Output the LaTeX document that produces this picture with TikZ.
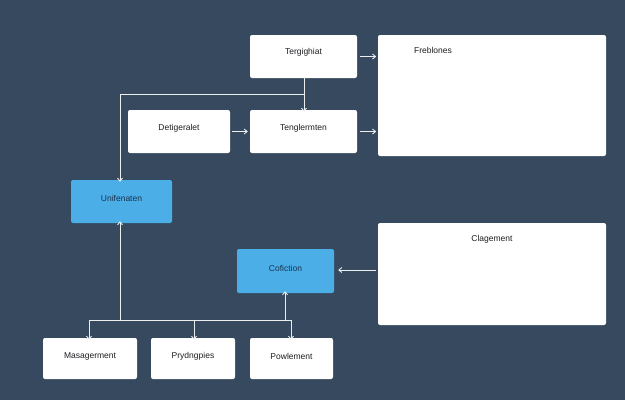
\documentclass[tikz,border=0pt]{standalone}
\usepackage{fontspec}
\setmainfont{Liberation Sans}
\usetikzlibrary{arrows.meta}
\definecolor{bg}{RGB}{54,73,94}
\definecolor{bl}{RGB}{76,174,230}
\definecolor{tx}{RGB}{30,30,35}
\definecolor{nv}{RGB}{25,50,80}
\begin{document}
\begin{tikzpicture}[x=1pt,y=-1pt,
 box/.style={draw=none,fill=white,rounded corners=2pt,font=\fontsize{8.5}{10}\selectfont,text=tx},
 bbox/.style={box,fill=bl},
 lbl/.style={font=\fontsize{8.5}{10}\selectfont,text=tx,inner sep=0},
 blbl/.style={lbl,text=nv},
 ln/.style={draw=white!90!bg,line width=0.9pt},
 ar/.style={ln,-{Straight Barb[length=3pt,width=5pt]}}]
\fill[bg] (0,0) rectangle (625,400);
\useasboundingbox (0,0) rectangle (625,400);
\newcommand\bx[6]{\node[#1,minimum width=#4-#2,minimum height=#5-#3,inner sep=0] (#6) at ({(#2+#4)/2},{(#3+#5)/2}) {};}
\bx{box}{250}{35}{357}{78}{tg}\node[lbl] at ([yshift=4pt]tg.center) {Tergighiat};
\bx{box}{378}{35}{606}{156}{fr}\node[lbl] at (433,50) {Freblones};
\bx{box}{128}{110}{230}{153}{de}\node[lbl] at ([yshift=3pt]de.center) {Detigeralet};
\bx{box}{250}{110}{357}{153}{te}\node[lbl] at ([yshift=3pt]te.center) {Tenglermten};
\bx{bbox}{71}{180}{172}{223}{un}\node[blbl] at ([yshift=3pt]un.center) {Unifenaten};
\bx{bbox}{237}{249}{334}{293}{co}\node[blbl] at ([yshift=3pt]co.center) {Cofiction};
\bx{box}{378}{223}{606}{325}{cl}\node[lbl] at (492,239) {Clagement};
\bx{box}{43}{338}{137}{379}{ma}\node[lbl] at ([yshift=2pt]ma.center) {Masagerment};
\bx{box}{151}{338}{235}{379}{py}\node[lbl] at ([yshift=2pt]py.center) {Prydngpies};
\bx{box}{250}{338}{333}{379}{po}\node[lbl] at ([yshift=2pt]po.center) {Powlement};
\coordinate (j1) at (304,94);
\coordinate (j2) at (120,94);
\coordinate (h1) at (89,320);
\coordinate (h2) at (291,320);
\draw[ar] ([xshift=3pt]tg.east) -- ([xshift=19pt]tg.east);
\draw[ar] ([xshift=3pt]te.east) -- ([xshift=19pt]te.east);
\draw[ar] ([xshift=2pt]de.east) -- ([xshift=-2pt]te.west);
\draw[ar] (tg.south -| j1) -- ([yshift=-2pt]te.north -| j1);
\draw[ar] (j1) -- (j2) -- ([yshift=-2pt]un.north -| j2);
\draw[ar] (120,320) -- ([yshift=2pt]un.south -| j2);
\draw[ln] (h1) -- (h2);
\draw[ar] (h1) -- ([yshift=-2pt]ma.north -| h1);
\draw[ar] (194,320) -- ([yshift=-2pt]py.north -| 194,0);
\draw[ar] (h2) -- ([yshift=-2pt]po.north -| h2);
\draw[ar] (285,320) -- ([yshift=2pt]co.south -| 285,0);
\draw[ar] ([xshift=-2pt]cl.west |- 0,270) -- ([xshift=4pt]co.east |- 0,270);
\end{tikzpicture}
\end{document}
